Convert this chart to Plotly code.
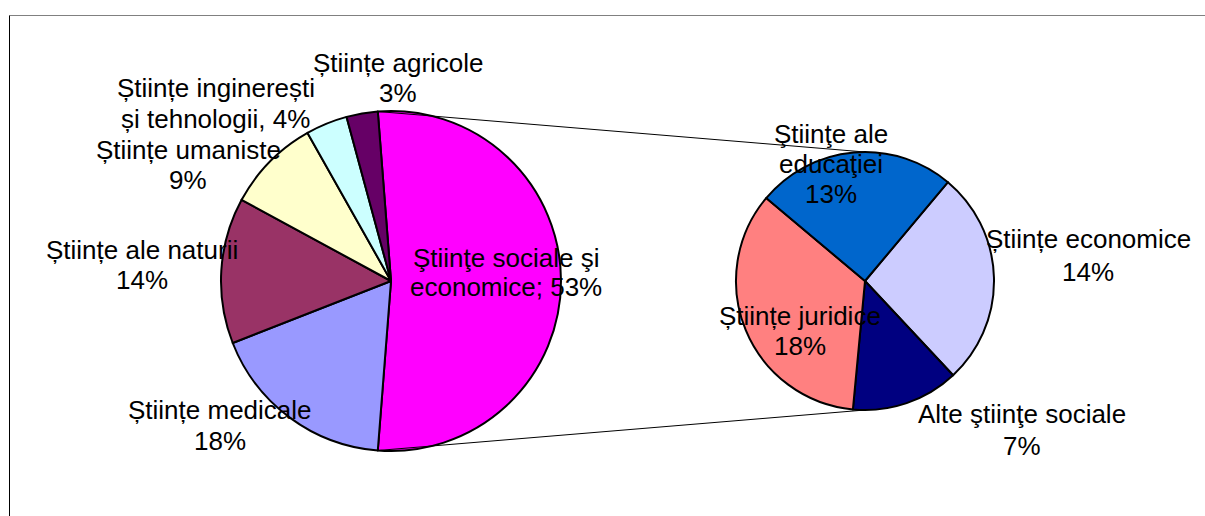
import math
import plotly.graph_objects as go

W, H = 1205, 516

# ---- data -------------------------------------------------------------
main_categories = [
    "Științe sociale și economice",
    "Științe medicale",
    "Științe ale naturii",
    "Științe umaniste",
    "Științe inginerești și tehnologii",
    "Științe agricole",
]
main_shares = [53, 18, 14, 9, 4, 3]

detail_categories = [
    "Științe economice",
    "Alte științe sociale",
    "Științe juridice",
    "Științe ale educației",
]
detail_shares = [14, 7, 18, 13]

# label text, one entry per drawn line ({v} is the slice value)
main_label_lines = [
    ["Ştiinţe sociale şi", "economice; {v}%"],
    ["Științe medicale", "{v}%"],
    ["Științe ale naturii", "{v}%"],
    ["Științe umaniste", "{v}%"],
    ["Științe inginerești", "și tehnologii, {v}%"],
    ["Științe agricole", "{v}%"],
]
detail_label_lines = [
    ["Științe economice", "{v}%"],
    ["Alte ştiinţe sociale", "{v}%"],
    ["Științe juridice", "{v}%"],
    ["Ştiinţe ale", "educaţiei", "{v}%"],
]

# ---- styles -------------------------------------------------------------
main_colors = ["#FF00FF", "#9999FF", "#993366", "#FFFFCC", "#CCFFFF", "#660066"]
detail_colors = ["#CCCCFF", "#000080", "#FF8080", "#0066CC"]
FONT = "Arial, 'Liberation Sans', sans-serif"
FONT_SIZE = 26

# pie geometry in pixels: centre x, centre y, radius
MAIN_PIE = (391, 281, 170)
DETAIL_PIE = (865, 281, 129)

# label placement: (centre x, baseline y of each line) in pixels
main_label_pos = [
    (505.5, [266.7, 296.0]),
    (220.0, [419.3, 450.0]),
    (142.0, [259.3, 288.6]),
    (188.0, [159.3, 189.3]),
    (215.5, [97.3, 128.0]),
    (398.0, [71.7, 101.7]),
]
detail_label_pos = [
    (1088.0, [248.0, 281.0]),
    (1021.5, [423.3, 455.0]),
    (799.5, [325.0, 355.0]),
    (830.5, [143.3, 173.3, 203.3]),
]


def px_x(x):
    return x / W


def px_y(y):
    return 1 - y / H


def domain(geom):
    cx, cy, r = geom
    return dict(x=[px_x(cx - r), px_x(cx + r)], y=[px_y(cy + r), px_y(cy - r)])


def point_on(geom, angle_deg):
    # angle measured clockwise from 12 o'clock
    cx, cy, r = geom
    a = math.radians(angle_deg)
    return cx + r * math.sin(a), cy - r * math.cos(a)


# the combined slice is centred on 3 o'clock
main_total = sum(main_shares)
first_span = 360.0 * main_shares[0] / main_total
main_rotation = 90.0 - first_span / 2
detail_rotation = 40.0

fig = go.Figure()

fig.add_trace(go.Pie(
    labels=main_categories,
    values=main_shares,
    sort=False,
    direction="clockwise",
    rotation=main_rotation,
    marker=dict(colors=main_colors, line=dict(color="#000000", width=2)),
    textinfo="none",
    hoverinfo="label+value",
    domain=domain(MAIN_PIE),
    showlegend=False,
))

fig.add_trace(go.Pie(
    labels=detail_categories,
    values=detail_shares,
    sort=False,
    direction="clockwise",
    rotation=detail_rotation,
    marker=dict(colors=detail_colors, line=dict(color="#000000", width=2)),
    textinfo="none",
    hoverinfo="label+value",
    domain=domain(DETAIL_PIE),
    showlegend=False,
))

# connector lines from the combined slice to the detail pie
top_start = point_on(MAIN_PIE, main_rotation)
bottom_start = point_on(MAIN_PIE, main_rotation + first_span)
top_end = point_on(DETAIL_PIE, 0)
bottom_end = point_on(DETAIL_PIE, 180)

shapes = []
for (x0, y0), (x1, y1) in [(top_start, top_end), (bottom_start, bottom_end)]:
    shapes.append(dict(type="line", xref="paper", yref="paper",
                       x0=px_x(x0), y0=px_y(y0), x1=px_x(x1), y1=px_y(y1),
                       line=dict(color="#000000", width=1)))

# chart area frame (top and left edges visible)
shapes.append(dict(type="line", xref="paper", yref="paper",
                   x0=px_x(9.5), y0=px_y(15.5), x1=px_x(1215), y1=px_y(15.5),
                   line=dict(color="#808080", width=1)))
shapes.append(dict(type="line", xref="paper", yref="paper",
                   x0=px_x(9.5), y0=px_y(15.5), x1=px_x(9.5), y1=px_y(530),
                   line=dict(color="#000000", width=1)))

# slice labels, each line placed separately
annotations = []
BASELINE_TO_MIDDLE = 0.3465 * FONT_SIZE


def add_labels(lines_list, values, positions):
    for lines, v, (cx, baselines) in zip(lines_list, values, positions):
        for text, base in zip(lines, baselines):
            annotations.append(dict(
                text=text.format(v=v), x=px_x(cx), y=px_y(base - BASELINE_TO_MIDDLE),
                xref="paper", yref="paper", xanchor="center", yanchor="middle",
                showarrow=False, borderpad=0,
                font=dict(family=FONT, size=FONT_SIZE, color="#000000"),
            ))


add_labels(main_label_lines, main_shares, main_label_pos)
add_labels(detail_label_lines, detail_shares, detail_label_pos)

fig.update_layout(
    width=W, height=H,
    margin=dict(l=0, r=0, t=0, b=0),
    paper_bgcolor="#FFFFFF",
    plot_bgcolor="#FFFFFF",
    shapes=shapes,
    annotations=annotations,
    font=dict(family=FONT, size=FONT_SIZE, color="#000000"),
)

fig.write_html("out.html")
